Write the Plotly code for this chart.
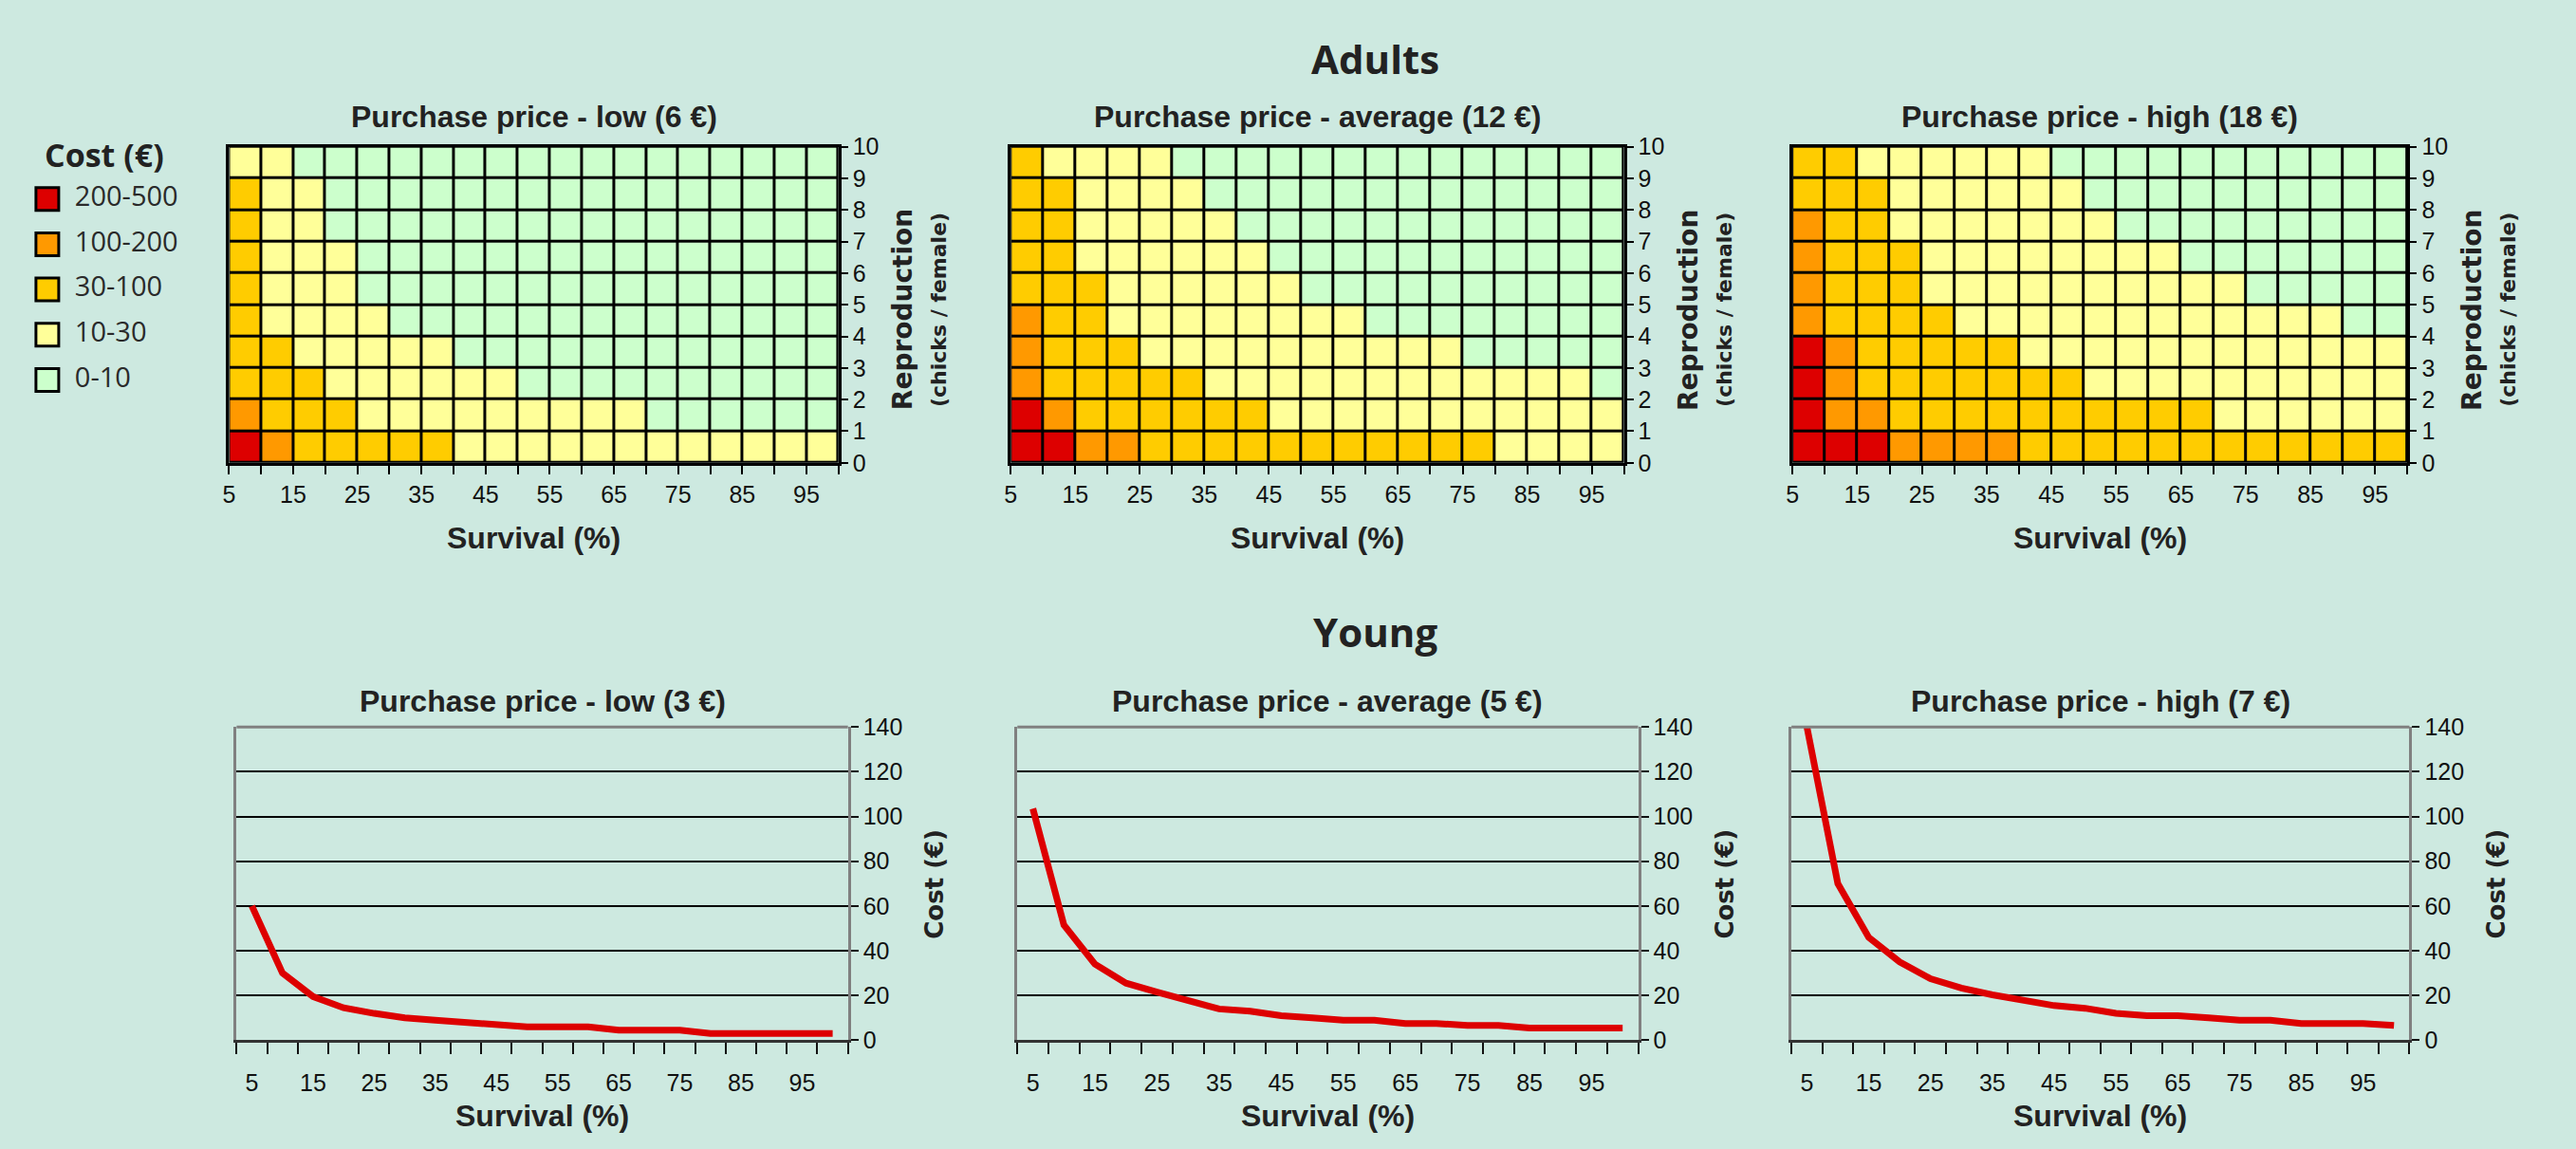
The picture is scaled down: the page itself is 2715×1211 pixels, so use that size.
import plotly.graph_objects as go

W, H = 2715, 1211
BG = "#CDE9E0"
ARIAL = "Liberation Sans, Arial, sans-serif"
SANS = "Open Sans, sans-serif"
WIDE = "DejaVu Sans, Verdana, sans-serif"
INK = "#222222"

# ---- data -------------------------------------------------------------
survival_pct = [5, 10, 15, 20, 25, 30, 35, 40, 45, 50,
                55, 60, 65, 70, 75, 80, 85, 90, 95, 100]
survival_ticks = [5, 15, 25, 35, 45, 55, 65, 75, 85, 95]
reproduction = [0, 1, 2, 3, 4, 5, 6, 7, 8, 9, 10]
cost_ticks = [0, 20, 40, 60, 80, 100, 120, 140]

cost_classes = ["0-10", "10-30", "30-100", "100-200", "200-500"]
class_colors = ["#CCFFCC", "#FFFF99", "#FFCC00", "#FF9900", "#DD0000"]

adult_titles = ["Purchase price - low (6 €)",
                "Purchase price - average (12 €)",
                "Purchase price - high (18 €)"]
young_titles = ["Purchase price - low (3 €)",
                "Purchase price - average (5 €)",
                "Purchase price - high (7 €)"]

# cost class index per cell (0 = 0-10 ... 4 = 200-500);
# rows run from 0-1 chicks/female upward, columns from 5-10 % survival
adult_low = [
    [4, 3, 2, 2, 2, 2, 2, 1, 1, 1, 1, 1, 1, 1, 1, 1, 1, 1, 1],
    [3, 2, 2, 2, 1, 1, 1, 1, 1, 1, 1, 1, 1, 0, 0, 0, 0, 0, 0],
    [2, 2, 2, 1, 1, 1, 1, 1, 1, 0, 0, 0, 0, 0, 0, 0, 0, 0, 0],
    [2, 2, 1, 1, 1, 1, 1, 0, 0, 0, 0, 0, 0, 0, 0, 0, 0, 0, 0],
    [2, 1, 1, 1, 1, 0, 0, 0, 0, 0, 0, 0, 0, 0, 0, 0, 0, 0, 0],
    [2, 1, 1, 1, 0, 0, 0, 0, 0, 0, 0, 0, 0, 0, 0, 0, 0, 0, 0],
    [2, 1, 1, 1, 0, 0, 0, 0, 0, 0, 0, 0, 0, 0, 0, 0, 0, 0, 0],
    [2, 1, 1, 0, 0, 0, 0, 0, 0, 0, 0, 0, 0, 0, 0, 0, 0, 0, 0],
    [2, 1, 1, 0, 0, 0, 0, 0, 0, 0, 0, 0, 0, 0, 0, 0, 0, 0, 0],
    [1, 1, 0, 0, 0, 0, 0, 0, 0, 0, 0, 0, 0, 0, 0, 0, 0, 0, 0],
]
adult_avg = [
    [4, 4, 3, 3, 2, 2, 2, 2, 2, 2, 2, 2, 2, 2, 2, 1, 1, 1, 1],
    [4, 3, 2, 2, 2, 2, 2, 2, 1, 1, 1, 1, 1, 1, 1, 1, 1, 1, 1],
    [3, 2, 2, 2, 2, 2, 1, 1, 1, 1, 1, 1, 1, 1, 1, 1, 1, 1, 0],
    [3, 2, 2, 2, 1, 1, 1, 1, 1, 1, 1, 1, 1, 1, 0, 0, 0, 0, 0],
    [3, 2, 2, 1, 1, 1, 1, 1, 1, 1, 1, 0, 0, 0, 0, 0, 0, 0, 0],
    [2, 2, 2, 1, 1, 1, 1, 1, 1, 0, 0, 0, 0, 0, 0, 0, 0, 0, 0],
    [2, 2, 1, 1, 1, 1, 1, 1, 0, 0, 0, 0, 0, 0, 0, 0, 0, 0, 0],
    [2, 2, 1, 1, 1, 1, 1, 0, 0, 0, 0, 0, 0, 0, 0, 0, 0, 0, 0],
    [2, 2, 1, 1, 1, 1, 0, 0, 0, 0, 0, 0, 0, 0, 0, 0, 0, 0, 0],
    [2, 1, 1, 1, 1, 0, 0, 0, 0, 0, 0, 0, 0, 0, 0, 0, 0, 0, 0],
]
adult_high = [
    [4, 4, 4, 3, 3, 3, 3, 2, 2, 2, 2, 2, 2, 2, 2, 2, 2, 2, 2],
    [4, 3, 3, 2, 2, 2, 2, 2, 2, 2, 2, 2, 2, 1, 1, 1, 1, 1, 1],
    [4, 3, 2, 2, 2, 2, 2, 2, 2, 1, 1, 1, 1, 1, 1, 1, 1, 1, 1],
    [4, 3, 2, 2, 2, 2, 2, 1, 1, 1, 1, 1, 1, 1, 1, 1, 1, 1, 1],
    [3, 2, 2, 2, 2, 1, 1, 1, 1, 1, 1, 1, 1, 1, 1, 1, 1, 0, 0],
    [3, 2, 2, 2, 1, 1, 1, 1, 1, 1, 1, 1, 1, 1, 0, 0, 0, 0, 0],
    [3, 2, 2, 2, 1, 1, 1, 1, 1, 1, 1, 1, 0, 0, 0, 0, 0, 0, 0],
    [3, 2, 2, 1, 1, 1, 1, 1, 1, 1, 0, 0, 0, 0, 0, 0, 0, 0, 0],
    [2, 2, 2, 1, 1, 1, 1, 1, 1, 0, 0, 0, 0, 0, 0, 0, 0, 0, 0],
    [2, 2, 1, 1, 1, 1, 1, 1, 0, 0, 0, 0, 0, 0, 0, 0, 0, 0, 0],
]

# cost (€) of a young bird by survival (%)
young_low = [60, 30, 19.5, 14.5, 12, 10, 9, 8, 7, 6,
             6, 6, 4.5, 4.5, 4.5, 3, 3, 3, 3, 3]
young_avg = [103.5, 51.5, 34, 25.5, 21.5, 18, 14, 13, 11, 10,
             9, 9, 7.5, 7.5, 6.6, 6.6, 5.5, 5.5, 5.5, 5.5]
young_high = [140, 70, 46, 35, 27.5, 23.3, 20.3, 17.6, 15.5, 14.3,
              12, 11, 11, 10, 9, 9, 7.5, 7.5, 7.5, 6.6]

# ---- layout helpers (pixel -> paper) ----------------------------------
def fx(p):
    return p / W


def fy(p):
    return 1 - p / H


def ax_id(letter, i):
    return letter if i == 1 else f"{letter}{i}"


def label(text, x, y, family, size, angle=0):
    return dict(text=text, x=fx(x), y=fy(y), xref="paper", yref="paper",
                xanchor="center", yanchor="middle", textangle=angle,
                showarrow=False, font=dict(family=family, size=size, color=INK))


heat_cols = [(235, 879), (1061, 1709), (1887, 2537)]
heat_top, heat_bot = 144, 485
line_cols = [(243, 889), (1068, 1724), (1886, 2539)]
line_top, line_bot = 770, 1108

n = len(class_colors)
colorscale = []
for k, c in enumerate(class_colors):
    colorscale += [[k / n, c], [(k + 1) / n, c]]

fig = go.Figure()
layout = dict(
    width=W, height=H,
    margin=dict(l=0, r=0, t=0, b=0),
    paper_bgcolor=BG, plot_bgcolor=BG,
    showlegend=False,
    font=dict(family=ARIAL, color=INK),
)
annotations = []
shapes = []

tick_font = dict(family=ARIAL, size=25, color="#111111")

# ---- adults: cost class grids -----------------------------------------
for i, (grid, (x0, x1), title) in enumerate(
        zip([adult_low, adult_avg, adult_high], heat_cols, adult_titles), start=1):
    xa, ya = ax_id("x", i), ax_id("y", i)
    fig.add_trace(go.Heatmap(
        z=grid, x=survival_pct, y=reproduction,
        xaxis=xa, yaxis=ya,
        colorscale=colorscale, zmin=-0.5, zmax=n - 0.5,
        showscale=False, xgap=3, ygap=3, hoverinfo="skip",
    ))
    layout[f"xaxis{i}"] = dict(
        domain=[fx(x0), fx(x1)], anchor=ya,
        range=[survival_pct[0], survival_pct[-1]],
        tickmode="array", tickvals=survival_ticks,
        ticks="outside", ticklen=9, tickwidth=2, tickcolor="black",
        minor=dict(tickmode="array",
                   tickvals=[v for v in survival_pct if v not in survival_ticks],
                   ticks="outside", ticklen=9, tickwidth=2, tickcolor="black"),
        showline=True, linecolor="black", linewidth=3, mirror=True,
        showgrid=False, zeroline=False, tickfont=tick_font, fixedrange=True,
    )
    layout[f"yaxis{i}"] = dict(
        domain=[fy(heat_bot), fy(heat_top)], anchor=xa, side="right",
        range=[reproduction[0], reproduction[-1]],
        tickmode="array", tickvals=reproduction,
        ticks="outside", ticklen=7, tickwidth=2, tickcolor="black",
        showline=True, linecolor="black", linewidth=3, mirror=True,
        showgrid=False, zeroline=False, tickfont=tick_font, fixedrange=True,
    )
    # black backdrop shows through the cell gaps as grid lines
    shapes.append(dict(type="rect", xref=f"{xa} domain", yref=f"{ya} domain",
                       x0=0, x1=1, y0=0, y1=1, fillcolor="black",
                       line=dict(width=0), layer="below"))
    cx = (x0 + x1) / 2
    annotations += [
        label(f"<b>{title}</b>", cx, 112, ARIAL, 32),
        label("<b>Survival (%)</b>", cx, 566, ARIAL, 32),
        label("<b>Reproduction</b>", x1 + 68, 320, WIDE, 28, -90),
        label("<b>(chicks / female)</b>", x1 + 106, 320, WIDE, 22, -90),
    ]

# ---- young: cost curves -----------------------------------------------
boundaries = [v - 2.5 for v in survival_pct] + [survival_pct[-1] + 2.5]
for j, (vals, (x0, x1), title) in enumerate(
        zip([young_low, young_avg, young_high], line_cols, young_titles), start=4):
    xa, ya = ax_id("x", j), ax_id("y", j)
    fig.add_trace(go.Scatter(
        x=survival_pct, y=vals, xaxis=xa, yaxis=ya,
        mode="lines", line=dict(color="#DD0000", width=7),
        hoverinfo="skip",
    ))
    layout[f"xaxis{j}"] = dict(
        domain=[fx(x0), fx(x1)], anchor=ya,
        range=[boundaries[0], boundaries[-1]],
        tickmode="array", tickvals=survival_ticks, ticks="", ticklabelstandoff=21,
        minor=dict(tickmode="array", tickvals=boundaries, ticks="outside",
                   ticklen=12, tickwidth=1.5, tickcolor="#111111"),
        showline=True, linecolor="#333333", linewidth=3,
        showgrid=False, zeroline=False, tickfont=tick_font, fixedrange=True,
    )
    layout[f"yaxis{j}"] = dict(
        domain=[fy(line_bot), fy(line_top)], anchor=xa, side="right",
        range=[cost_ticks[0], cost_ticks[-1]],
        tickmode="array", tickvals=cost_ticks,
        ticks="outside", ticklen=8, tickwidth=1.5, tickcolor="#111111",
        showline=True, linecolor="#808080", linewidth=3, mirror=True,
        showgrid=True, gridcolor="black", gridwidth=1.5,
        zeroline=False, tickfont=tick_font, fixedrange=True,
    )
    shapes.append(dict(type="line", xref=f"{xa} domain", yref=f"{ya} domain",
                       x0=0, x1=1, y0=1, y1=1,
                       line=dict(color="#808080", width=3), layer="above"))
    cx = (x0 + x1) / 2
    annotations += [
        label(f"<b>{title}</b>", cx, 742, ARIAL, 32),
        label("<b>Survival (%)</b>", cx, 1189, ARIAL, 32),
        label("<b>Cost (€)</b>", x1 + 92, (line_top + line_bot) / 2, WIDE, 26, -90),
    ]

# ---- cost class key ---------------------------------------------------
legend_order = list(reversed(range(n)))
fig.add_trace(go.Scatter(
    x=[0] * n, y=[cost_classes[k] for k in legend_order],
    xaxis="x7", yaxis="y7", mode="markers",
    marker=dict(symbol="square", size=24,
                color=[class_colors[k] for k in legend_order],
                line=dict(color="black", width=3)),
    hoverinfo="skip",
))
fig.add_trace(go.Scatter(
    x=[1.45] * n, y=[cost_classes[k] for k in legend_order],
    xaxis="x7", yaxis="y7", mode="text",
    text=[cost_classes[k] for k in legend_order], textposition="middle right",
    textfont=dict(family=SANS, size=29, color="#2a2a2a"),
    hoverinfo="skip",
))
layout["xaxis7"] = dict(domain=[fx(20), fx(220)], anchor="y7", range=[-1.15, 8.85],
                        visible=False, fixedrange=True)
layout["yaxis7"] = dict(domain=[fy(420), fy(176)], anchor="x7",
                        type="category",
                        categoryorder="array", categoryarray=list(cost_classes),
                        range=[-0.5, n - 0.5], visible=False, fixedrange=True)
annotations.append(label("<b>Cost (€)</b>", 103, 153, SANS, 34))

# ---- section headings -------------------------------------------------
annotations += [
    label("<b>Adults</b>", 1446, 49, SANS, 42),
    label("<b>Young</b>", 1446, 667, SANS, 42),
]

layout["annotations"] = annotations
layout["shapes"] = shapes
fig.update_layout(**layout)
fig.write_html("out.html")
